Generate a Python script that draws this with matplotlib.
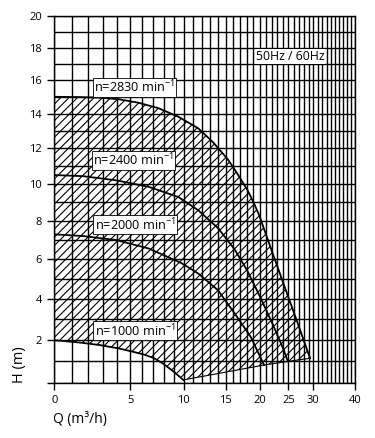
import numpy as np
import matplotlib
matplotlib.use("Agg")
import matplotlib.pyplot as plt
from matplotlib.ticker import FixedLocator

plt.rcParams['font.family'] = ['Open Sans', 'DejaVu Sans']
plt.rcParams['mathtext.fontset'] = 'custom'
plt.rcParams['mathtext.rm'] = 'Open Sans'
plt.rcParams['mathtext.it'] = 'Open Sans:italic'
plt.rcParams['hatch.linewidth'] = 0.8

# --- data ---
q_2830 = [0, 1.455, 2.732, 4.152, 5.730, 7.483, 9.434, 11.60, 13.38, 15.31, 16.68, 18.13,
          19.04, 19.93, 22.11, 24.39, 26.64, 29.31]
h_2830 = [15.0, 14.98, 14.95, 14.85, 14.64, 14.32, 13.82, 13.15, 12.35, 11.38, 10.55, 9.67,
          9.01, 8.32, 6.37, 4.545, 2.92, 1.144]

q_2400 = [0, 1.638, 3.91, 6.58, 9.434, 11.60, 14.01, 16.22, 18.13, 20.18, 22.40, 24.16, 24.9]
h_2400 = [10.5, 10.44, 10.21, 9.85, 9.29, 8.58, 7.63, 6.53, 5.40, 4.05, 2.63, 1.53, 1.0]

q_2000 = [0, 1.656, 3.91, 6.58, 9.74, 11.60, 14.01, 16.22, 18.63, 20.73]
h_2000 = [7.3, 7.21, 7.00, 6.56, 5.81, 5.28, 4.44, 3.31, 2.15, 0.83]

q_1000 = [0, 1.455, 2.732, 4.152, 5.159, 6.151, 7.027, 7.952, 8.927, 9.95]
h_1000 = [2.0, 1.889, 1.771, 1.605, 1.463, 1.322, 1.158, 0.877, 0.529, 0.14]

q_base = [9.95, 20.73, 24.9, 29.31]
h_base = [0.14, 0.83, 1.0, 1.144]

speed_labels = ["n=2830 min$^{-1}$", "n=2400 min$^{-1}$", "n=2000 min$^{-1}$", "n=1000 min$^{-1}$"]
label_q = [5.36, 5.28, 5.4, 5.4]
label_h = [15.57, 11.33, 7.81, 2.46]

x_ticks = [0, 5, 10, 15, 20, 25, 30, 40]
y_ticks = [0, 2, 4, 6, 8, 10, 12, 14, 16, 18, 20]

# --- scales ---
def fx(x):
    return np.log(np.asarray(x, dtype=float) + 10.0)
def ix(t):
    return np.exp(t) - 10.0
def fy(y):
    return np.log(np.asarray(y, dtype=float) + 50.0)
def iy(t):
    return np.exp(t) - 50.0

fig = plt.figure(figsize=(3.75, 4.38), dpi=100)
ax = fig.add_axes([0.1448, 0.1256, 0.8019, 0.838])
ax.set_xscale('function', functions=(fx, ix))
ax.set_yscale('function', functions=(fy, iy))
ax.set_xlim(0, 40)
ax.set_ylim(0, 20)

# hatched operating region
poly_q = list(q_2830) + list(q_base[::-1]) + list(q_1000[::-1])
poly_h = list(h_2830) + list(h_base[::-1]) + list(h_1000[::-1])
ax.fill(poly_q, poly_h, facecolor='none', edgecolor='black', hatch='////', linewidth=0, zorder=1)

# grid
ax.xaxis.set_minor_locator(FixedLocator(list(range(0, 41))))
ax.yaxis.set_minor_locator(FixedLocator(list(range(0, 21))))
ax.grid(which='both', color='black', linewidth=1.0, zorder=2)
ax.tick_params(which='minor', length=0)
ax.set_axisbelow(False)

# curves
for qs, hs in [(q_2830, h_2830), (q_2400, h_2400), (q_2000, h_2000), (q_1000, h_1000)]:
    ax.plot(qs, hs, color='black', lw=1.3, zorder=3, solid_joinstyle='round')
ax.plot(q_base, h_base, color='black', lw=0.8, zorder=3)

for s, q, h in zip(speed_labels, label_q, label_h):
    ax.text(q, h, s, ha='center', va='center', fontsize=9.2, zorder=5,
            bbox=dict(boxstyle='square,pad=0.1', facecolor='white', edgecolor='black', linewidth=0.6))

ax.text(25.3, 17.45, "50Hz / 60Hz", ha='center', va='center', fontsize=8.8, zorder=5,
        bbox=dict(boxstyle='square,pad=0.05', facecolor='white', edgecolor='none'))

ax.set_xticks(x_ticks)
ax.set_xticklabels([str(v) for v in x_ticks])
ax.set_yticks(y_ticks)
ax.set_yticklabels(['' if v == 0 else str(v) for v in y_ticks])
ax.tick_params(which='major', direction='out', length=5, width=1, labelsize=8, pad=4)

for sp in ax.spines.values():
    sp.set_color('black')
    sp.set_linewidth(1.0)

fig.text(20 / 375, 1 - 365 / 438, "H (m)", rotation=90, ha='center', va='center', fontsize=10.5)
fig.text(53 / 375, 1 - 420 / 438, "Q (m³/h)", ha='left', va='center', fontsize=10)

fig.savefig("out.png", dpi=100)
